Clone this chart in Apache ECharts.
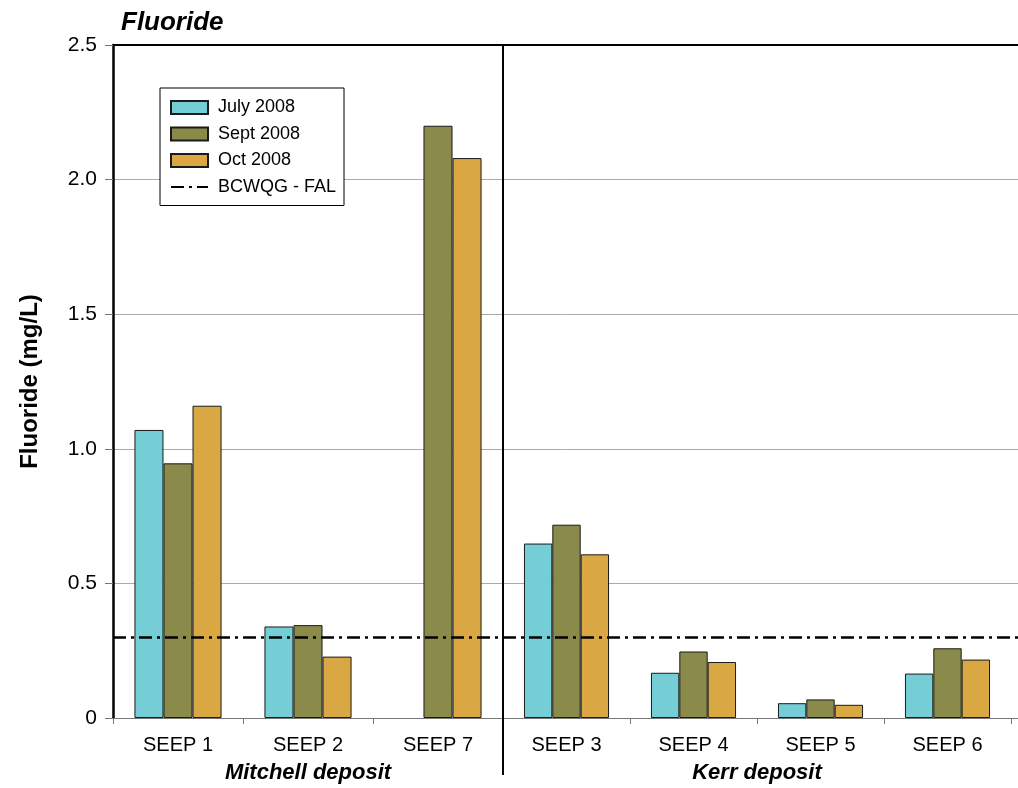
<!DOCTYPE html>
<html>
<head>
<meta charset="utf-8">
<script src="https://cdn.jsdelivr.net/npm/echarts@6/dist/echarts.min.js"></script>
<style>html,body{margin:0;padding:0;background:#fff;}#c{width:1018px;height:788px;}</style>
</head>
<body>
<div id="c"></div>
<script>
// Mitchell deposit
const mitchellCategories = ['SEEP 1', 'SEEP 2', 'SEEP 7'];
const mitchellJuly = [1.07, 0.34, null];
const mitchellSept = [0.946, 0.345, 2.2];
const mitchellOct = [1.16, 0.228, 2.08];
// Kerr deposit
const kerrCategories = ['SEEP 3', 'SEEP 4', 'SEEP 5', 'SEEP 6'];
const kerrJuly = [0.648, 0.168, 0.055, 0.165];
const kerrSept = [0.718, 0.247, 0.069, 0.259];
const kerrOct = [0.608, 0.208, 0.049, 0.217];
const guideline = 0.3; // BCWQG - FAL
const seriesNames = ['July 2008', 'Sept 2008', 'Oct 2008'];
const groupNames = ['Mitchell deposit', 'Kerr deposit'];
const yTicks = { min: 0, max: 2.5, interval: 0.5 };

const FONT = '"Liberation Sans", Arial, sans-serif';
const colors = ['#75CED5', '#8A8A4B', '#D9A843'];
const chart = echarts.init(document.getElementById('c'));
const barStyle = c => ({ color: c, borderColor: '#1a1a1a', borderWidth: 1 });
const dashDot = [13, 5, 3, 5];

const bars = [];
[[mitchellJuly, mitchellSept, mitchellOct], [kerrJuly, kerrSept, kerrOct]].forEach((grp, gi) => {
  grp.forEach((vals, si) => {
    bars.push({
      name: seriesNames[si], type: 'bar', xAxisIndex: gi, yAxisIndex: gi,
      data: vals, itemStyle: barStyle(colors[si]),
      barGap: '0%', barCategoryGap: '33%', z: 3
    });
  });
});

const yBase = { type: 'value', min: yTicks.min, max: yTicks.max, interval: yTicks.interval };
const xCat = (idx, cats) => ({
  type: 'category', gridIndex: idx, data: cats,
  axisLine: { show: false },
  axisTick: { show: true, length: 6, lineStyle: { color: '#777' } },
  axisLabel: { fontFamily: FONT, fontSize: 20, color: '#000', margin: 17 }
});

chart.setOption({
  animation: false,
  textStyle: { fontFamily: FONT },
  title: {
    text: 'Fluoride', left: 116, top: 5,
    textStyle: { fontFamily: FONT, fontSize: 26, fontWeight: 'bold', fontStyle: 'italic', color: '#000' }
  },
  grid: [
    { left: 113, top: 45, bottom: 70, width: 390 },
    { left: 503, top: 45, bottom: 70, width: 508 },
    { left: 113, top: 45, bottom: 70, right: 0 }
  ],
  legend: {
    orient: 'vertical', left: 160, top: 88,
    backgroundColor: '#fff', borderColor: '#000', borderWidth: 1,
    padding: [10, 8, 9, 10],
    itemWidth: 37, itemHeight: 13, itemGap: 7.5,
    textStyle: { fontFamily: FONT, fontSize: 18, lineHeight: 19, color: '#000', padding: [0, 0, 0, 5] },
    data: [
      { name: seriesNames[0], icon: 'rect' },
      { name: seriesNames[1], icon: 'rect' },
      { name: seriesNames[2], icon: 'rect' },
      { name: 'BCWQG - FAL', itemStyle: { opacity: 0, color: 'rgba(0,0,0,0)', borderWidth: 0 } }
    ]
  },
  xAxis: [
    xCat(0, mitchellCategories),
    xCat(1, kerrCategories),
    { type: 'category', gridIndex: 2, data: [''], position: 'bottom',
      axisLine: { lineStyle: { color: '#777', width: 1 } }, axisTick: { show: false }, axisLabel: { show: false } },
    { type: 'category', gridIndex: 2, data: [''], position: 'top',
      axisLine: { lineStyle: { color: '#000', width: 2 } }, axisTick: { show: false }, axisLabel: { show: false } }
  ],
  yAxis: [
    Object.assign({}, yBase, {
      gridIndex: 0,
      name: 'Fluoride (mg/L)', nameLocation: 'middle', nameGap: 71,
      nameTextStyle: { fontFamily: FONT, fontSize: 24, fontWeight: 'bold', color: '#000' },
      axisLine: { show: true, lineStyle: { color: '#000', width: 2.5 } },
      axisTick: { show: true, length: 8, lineStyle: { color: '#777' } },
      axisLabel: { fontFamily: FONT, fontSize: 21, color: '#000', margin: 16,
        formatter: v => v === 0 ? '0' : v.toFixed(1) },
      splitLine: { show: false }
    }),
    Object.assign({}, yBase, { gridIndex: 1, show: false, splitLine: { show: false } }),
    Object.assign({}, yBase, { gridIndex: 2, axisLine: { show: false }, axisTick: { show: false },
      axisLabel: { show: false }, splitLine: { lineStyle: { color: '#aaa', width: 1 } } })
  ],
  series: bars.concat([{
    name: 'BCWQG - FAL', type: 'line', xAxisIndex: 2, yAxisIndex: 2, data: [], symbol: 'none',
    itemStyle: { color: '#000' },
    lineStyle: { color: '#000', width: 2.5, type: dashDot },
    markLine: {
      silent: true, symbol: ['none', 'none'], label: { show: false }, z: 5,
      lineStyle: { color: '#000', width: 2.5, type: dashDot },
      data: [{ yAxis: guideline }]
    }
  }])
});

// Divider and group labels placed from the axes' scales
const px = (axis, cat) => chart.convertToPixel({ xAxisIndex: axis }, cat);
const topY = chart.convertToPixel({ yAxisIndex: 0 }, yTicks.max);
const kStep = px(1, kerrCategories[1]) - px(1, kerrCategories[0]);
const divX = px(1, kerrCategories[0]) - kStep / 2;
const mCenter = (px(0, mitchellCategories[0]) + px(0, mitchellCategories[mitchellCategories.length - 1])) / 2;
const kCenter = (px(1, kerrCategories[0]) + px(1, kerrCategories[kerrCategories.length - 1])) / 2;
const labelStyle = t => ({ text: t, fontFamily: FONT, fontSize: 22, fontWeight: 'bold', fontStyle: 'italic',
  fill: '#000', textAlign: 'center', textVerticalAlign: 'middle' });
chart.setOption({ graphic: [
  { type: 'line', shape: { x1: divX, y1: topY, x2: divX, y2: 775 }, style: { stroke: '#000', lineWidth: 2 }, z: 10 },
  { type: 'text', x: mCenter, y: 773, style: labelStyle(groupNames[0]) },
  { type: 'text', x: kCenter, y: 773, style: labelStyle(groupNames[1]) }
] });
</script>
</body>
</html>
